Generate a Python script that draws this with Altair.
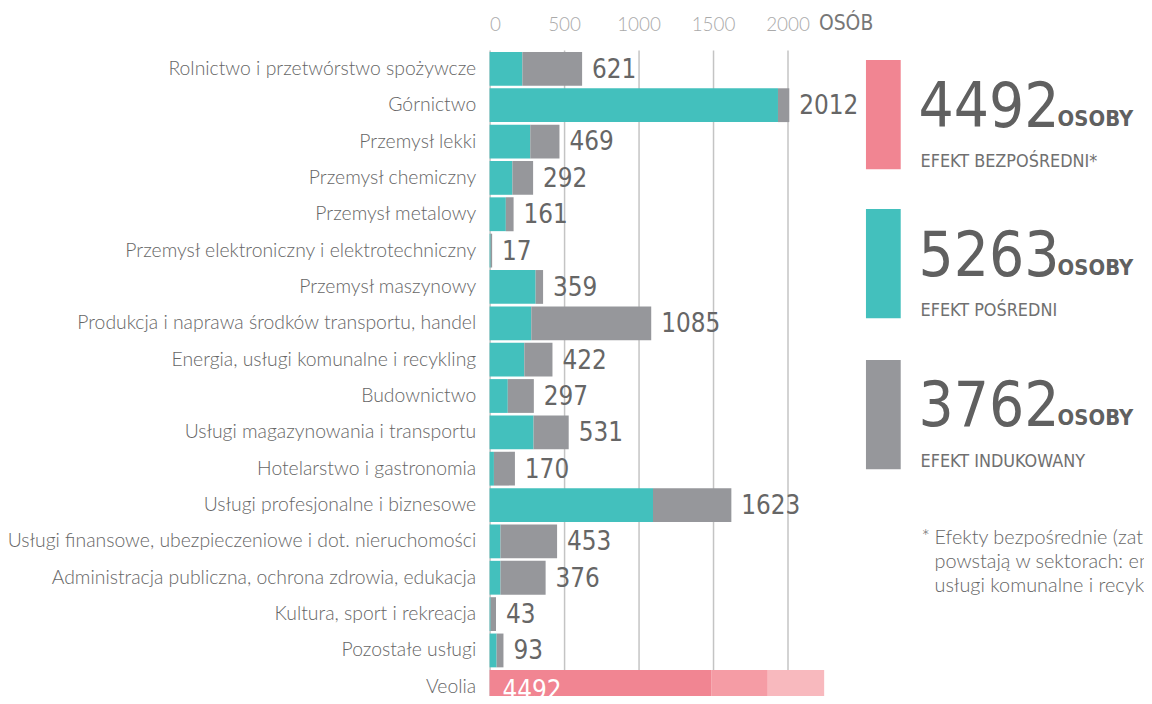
import altair as alt
import pandas as pd

categories = [
    "Rolnictwo i przetwórstwo spożywcze",
    "Górnictwo",
    "Przemysł lekki",
    "Przemysł chemiczny",
    "Przemysł metalowy",
    "Przemysł elektroniczny i elektrotechniczny",
    "Przemysł maszynowy",
    "Produkcja i naprawa środków transportu, handel",
    "Energia, usługi komunalne i recykling",
    "Budownictwo",
    "Usługi magazynowania i transportu",
    "Hotelarstwo i gastronomia",
    "Usługi profesjonalne i biznesowe",
    "Usługi finansowe, ubezpieczeniowe i dot. nieruchomości",
    "Administracja publiczna, ochrona zdrowia, edukacja",
    "Kultura, sport i rekreacja",
    "Pozostałe usługi",
]
indirect = [220, 1936, 273, 153, 109, 7, 309, 280, 233, 122, 295, 29, 1097, 73, 73, 7, 47]
induced = [401, 76, 196, 139, 52, 10, 50, 805, 189, 175, 236, 141, 526, 380, 303, 36, 46]
totals = [621, 2012, 469, 292, 161, 17, 359, 1085, 422, 297, 531, 170, 1623, 453, 376, 43, 93]

veolia_label = "Veolia"
veolia_total = 4492
veolia_segments = [2975, 760, 757]   # drawn at half scale in the original
veolia_scale = 0.5

legend_values = [4492, 5263, 3762]
legend_labels = ["EFEKT BEZPOŚREDNI*", "EFEKT POŚREDNI", "EFEKT INDUKOWANY"]
legend_unit = "OSOBY"
footnote = [
    "Efekty bezpośrednie (zatrudnienie w Veolii)",
    "powstają w sektorach: energia,",
    "usługi komunalne i recykling",
]
x_ticks = [0, 500, 1000, 1500, 2000]

TEAL = "#43c0bd"
GREY = "#96979b"
PINK = ["#f18592", "#f59ca5", "#f8b9be"]
LEG_COLORS = [PINK[0], TEAL, GREY]
TXT = "#666666"
NARROW = "'DejaVu Sans Condensed', 'DejaVu Sans', sans-serif"
LIGHT = "Lato"

all_cats = categories + [veolia_label]

rows = []
for c, a, b in zip(categories, indirect, induced):
    rows.append({"cat": c, "seg": "pośredni", "start": 0, "end": a})
    rows.append({"cat": c, "seg": "indukowany", "start": a, "end": a + b})
acc = 0
for i, v in enumerate(veolia_segments):
    rows.append({"cat": veolia_label, "seg": f"veolia{i}", "start": acc * veolia_scale,
                 "end": (acc + v) * veolia_scale})
    acc += v
bars_df = pd.DataFrame(rows)

lab_df = pd.DataFrame({"cat": categories, "total": totals, "txt": [str(t) for t in totals]})
veo_df = pd.DataFrame({"cat": [veolia_label], "x": [0], "txt": [str(veolia_total)]})

W, H = 659, 648
xscale = alt.Scale(domain=[0, W / 0.15], nice=False, zero=True)
yscale = alt.Scale(domain=all_cats, range=[0, 660], paddingInner=0.07, paddingOuter=0.05)

seg_domain = ["pośredni", "indukowany", "veolia0", "veolia1", "veolia2"]
seg_range = [TEAL, GREY] + PINK

bars = alt.Chart(bars_df).mark_bar().encode(
    y=alt.Y("cat:N", scale=yscale, sort=all_cats,
            axis=alt.Axis(title=None, ticks=False, domain=False, labelFont=LIGHT,
                          labelFontWeight=300, labelFontSize=19.5, labelColor=TXT,
                          labelPadding=14, labelLimit=600)),
    x=alt.X("start:Q", scale=xscale,
            axis=alt.Axis(orient="top", values=x_ticks, title=None, ticks=False, domain=False,
                          grid=True, gridColor="#c4c4c4", gridWidth=1.5, labelFont=LIGHT,
                          labelFontWeight=300, labelFontSize=19, labelColor="#aaaaaa",
                          labelPadding=16, format="d")),
    x2="end:Q",
    color=alt.Color("seg:N", scale=alt.Scale(domain=seg_domain, range=seg_range), legend=None),
)

labels = alt.Chart(lab_df).mark_text(align="left", baseline="middle", dx=10, dy=1,
                                     font=NARROW, fontSize=26, color=TXT).encode(
    y=alt.Y("cat:N", scale=yscale, sort=all_cats),
    x=alt.X("total:Q", scale=xscale),
    text="txt:N",
)

veo_text = alt.Chart(veo_df).mark_text(align="left", baseline="middle", dx=13, dy=4,
                                       font=NARROW, fontSize=26, color="white").encode(
    y=alt.Y("cat:N", scale=yscale, sort=all_cats),
    x=alt.X("x:Q", scale=xscale),
    text="txt:N",
)

one = pd.DataFrame({"k": [0]})
extras = [
    alt.Chart(one).mark_text(text="OSÓB", font=NARROW, fontSize=21, color="#777777",
                             align="center", baseline="middle").encode(
        x=alt.value(359), y=alt.value(-26))
]
tops = [10, 160, 312]
for top, val, lab, col in zip(tops, legend_values, legend_labels, LEG_COLORS):
    extras.append(alt.Chart(one).mark_rect(color=col).encode(
        x=alt.value(379), x2=alt.value(414), y=alt.value(top), y2=alt.value(top + 110)))
    extras.append(alt.Chart(one).mark_text(text=str(val), font=NARROW, fontSize=62,
                                           color="#606060", align="left",
                                           baseline="alphabetic").encode(
        x=alt.value(432), y=alt.value(top + 67)))
    extras.append(alt.Chart(one).mark_text(text=legend_unit, font=NARROW, fontSize=22,
                                           fontWeight="bold", color="#606060", align="left",
                                           baseline="alphabetic").encode(
        x=alt.value(572), y=alt.value(top + 66)))
    extras.append(alt.Chart(one).mark_text(text=lab, font=NARROW, fontSize=18,
                                           color="#707070", align="left",
                                           baseline="alphabetic").encode(
        x=alt.value(434), y=alt.value(top + 108)))

extras.append(alt.Chart(one).mark_text(text="*", font=LIGHT, fontWeight=300, fontSize=20,
                                       color=TXT, align="left", baseline="alphabetic").encode(
    x=alt.value(435), y=alt.value(497)))
for i, line in enumerate(footnote):
    extras.append(alt.Chart(one).mark_text(text=line, font=LIGHT, fontWeight=300, fontSize=20,
                                           color=TXT, align="left",
                                           baseline="alphabetic").encode(
        x=alt.value(448), y=alt.value(497 + 24.5 * i)))

chart = alt.layer(bars, labels, veo_text, *extras).properties(
    width=W, height=H,
    padding={"left": 485, "top": 40, "right": 0, "bottom": 0},
    autosize=alt.AutoSizeParams(type="none"),
).configure(background="white").configure_view(stroke=None)

chart.save("out.html", embed_options={"renderer": "svg", "actions": False})
